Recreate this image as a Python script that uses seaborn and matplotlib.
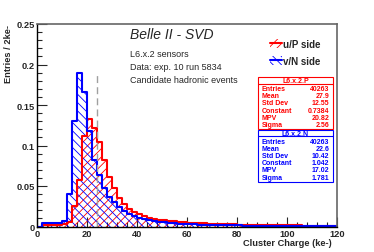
import numpy as np
import pandas as pd
import seaborn as sns
import matplotlib.pyplot as plt
from matplotlib.patches import Patch, Rectangle
from matplotlib.lines import Line2D

# bins: 2 ke- wide from 0 to 120
edges = np.arange(0, 122, 2)

# u/P side (red), normalised entries per 2 ke-
p_side = [0.0, 0.002, 0.002, 0.002, 0.002, 0.003, 0.006, 0.025, 0.058, 0.112,
          0.133, 0.122, 0.104, 0.082, 0.061, 0.048, 0.035, 0.028, 0.022, 0.018,
          0.015, 0.013, 0.011, 0.0095, 0.0085, 0.0075, 0.0068, 0.0062, 0.0057, 0.0052,
          0.0048, 0.0044, 0.0041, 0.0038, 0.0035, 0.0033, 0.0031, 0.0029, 0.0027, 0.0025,
          0.0024, 0.0022, 0.0021, 0.002, 0.0019, 0.0018, 0.0017, 0.0016, 0.0015, 0.0015,
          0.0014, 0.0013, 0.0013, 0.0012, 0.0012, 0.0011, 0.0011, 0.001, 0.001, 0.001]

# v/N side (blue)
n_side = [0.0, 0.004, 0.004, 0.004, 0.004, 0.007, 0.040, 0.130, 0.190, 0.166,
          0.118, 0.082, 0.063, 0.048, 0.037, 0.030, 0.024, 0.019, 0.016, 0.013,
          0.011, 0.0095, 0.008, 0.007, 0.006, 0.0052, 0.0046, 0.004, 0.0036, 0.0032,
          0.0029, 0.0026, 0.0024, 0.0022, 0.002, 0.0019, 0.0017, 0.0016, 0.0015, 0.0014,
          0.0013, 0.0012, 0.0011, 0.0011, 0.001, 0.001, 0.0009, 0.0009, 0.0008, 0.0008,
          0.0008, 0.0007, 0.0007, 0.0007, 0.0006, 0.0006, 0.0006, 0.0006, 0.0005, 0.0005]

cut_x = 24
cut_top = 0.187

xticks = [0, 20, 40, 60, 80, 100, 120]
yticks = [0, 0.05, 0.1, 0.15, 0.2, 0.25]
ytick_labels = ['0', '0.05', '0.1', '0.15', '0.2', '0.25']

stats_p = [('Entries', '40263'), ('Mean', '27.9'), ('Std Dev', '12.55'),
           ('Constant', '0.7384'), ('MPV', '20.82'), ('Sigma', '2.56')]
stats_n = [('Entries', '40263'), ('Mean', '22.6'), ('Std Dev', '10.42'),
           ('Constant', '1.042'), ('MPV', '17.02'), ('Sigma', '1.781')]

# step curves: value of each bin held up to the last edge
df = pd.DataFrame({'charge': edges,
                   'p': np.append(p_side, p_side[-1]),
                   'n': np.append(n_side, n_side[-1])})

sns.set_style('ticks')
plt.rcParams['font.family'] = ['Liberation Sans', 'DejaVu Sans']
plt.rcParams['hatch.linewidth'] = 0.6

W, H = 374, 253
def fx(px):
    return px / W
def fy(py):
    return 1 - py / H

fig = plt.figure(figsize=(3.74, 2.53), dpi=100)
ax = fig.add_axes([fx(37), fy(227.5), fx(337) - fx(37), fy(25) - fy(227.5)])

# hatched fills
ax.fill_between(df['charge'], df['p'], step='post', facecolor='none',
                edgecolor='red', hatch='////', linewidth=0)
ax.fill_between(df['charge'], df['n'], step='post', facecolor='none',
                edgecolor='blue', hatch='\\\\\\\\', linewidth=0)

# outlines
sns.lineplot(data=df, x='charge', y='p', drawstyle='steps-post', color='red',
             linewidth=1.5, estimator=None, sort=False, ax=ax)
sns.lineplot(data=df, x='charge', y='n', drawstyle='steps-post', color='blue',
             linewidth=1.5, estimator=None, sort=False, ax=ax)

ax.vlines(cut_x, 0, cut_top, color='#a0a0a0', linestyle=(0, (5, 3)), linewidth=1)

ax.set_xlim(0, 120)
ax.set_ylim(0, 0.25)
ax.set_xticks(xticks)
ax.set_xticks(np.arange(0, 121, 4), minor=True)
ax.set_yticks(yticks)
ax.set_yticklabels(ytick_labels)
ax.set_yticks(np.arange(0, 0.251, 0.01), minor=True)
ax.tick_params(which='major', direction='in', length=7, width=0.8, labelsize=6.7, pad=1.5)
ax.tick_params(which='minor', direction='in', length=3.5, width=0.8)
for lab in ax.get_xticklabels() + ax.get_yticklabels():
    lab.set_fontweight('bold')
ax.set_xlabel('')
ax.set_ylabel('')
for s in ['left', 'bottom']:
    ax.spines[s].set_color('black')
    ax.spines[s].set_linewidth(1)
for s in ['top', 'right']:
    ax.spines[s].set_color('#666666')
    ax.spines[s].set_linewidth(1.2)

fig.text(fx(332), fy(243.5), 'Cluster Charge (ke-)', ha='right', va='center',
         fontsize=6.7, fontweight='bold')
fig.text(fx(9), fy(25), 'Entries / 2ke-', ha='center', va='top', rotation=90,
         fontsize=6.7, fontweight='bold')

fig.text(fx(130), fy(35), 'Belle II - SVD', ha='left', va='center', fontsize=10, style='italic')
for y, t in [(55, 'L6.x.2 sensors'), (68, 'Data: exp. 10 run 5834'), (81, 'Candidate hadronic events')]:
    fig.text(fx(130), fy(y), t, ha='left', va='center', fontsize=6.5)

handles = [(Patch(facecolor='none', edgecolor='red', hatch='////', linewidth=0),
            Line2D([], [], color='red', linewidth=1.5)),
           (Patch(facecolor='none', edgecolor='blue', hatch='\\\\\\\\', linewidth=0),
            Line2D([], [], color='blue', linewidth=1.5))]
ax.legend(handles, ['u/P side', 'v/N side'], loc='upper left',
          bbox_to_anchor=(fx(265), fy(35)), bbox_transform=fig.transFigure,
          frameon=False, borderpad=0, handlelength=1.2, handleheight=1.0,
          handletextpad=0.15, labelspacing=0.75, prop={'size': 7, 'weight': 'bold'})

def stats_box(top, title, rows, color):
    x0, x1 = 258, 333
    bottom = top + 51.5
    fig.patches.append(Rectangle((fx(x0), fy(bottom)), fx(x1) - fx(x0), fy(top) - fy(bottom),
                                 transform=fig.transFigure, facecolor='white',
                                 edgecolor=color, linewidth=0.8))
    fig.lines.append(Line2D([fx(x0), fx(x1)], [fy(top + 6.2), fy(top + 6.2)],
                            transform=fig.transFigure, color=color, linewidth=0.8))
    fig.text(fx((x0 + x1) / 2), fy(top + 3.3), title, ha='center', va='center',
             fontsize=5, fontweight='bold', color=color)
    for i, (k, v) in enumerate(rows):
        yy = top + 11.2 + 7.2 * i
        fig.text(fx(262), fy(yy), k, ha='left', va='center', fontsize=5,
                 fontweight='bold', color=color)
        fig.text(fx(329.5), fy(yy), v, ha='right', va='center', fontsize=5,
                 fontweight='bold', color=color)

stats_box(78.3, 'L6.x.2.P', stats_p, 'red')
stats_box(131, 'L6.x.2.N', stats_n, 'blue')

fig.savefig('out.png', dpi=100)
